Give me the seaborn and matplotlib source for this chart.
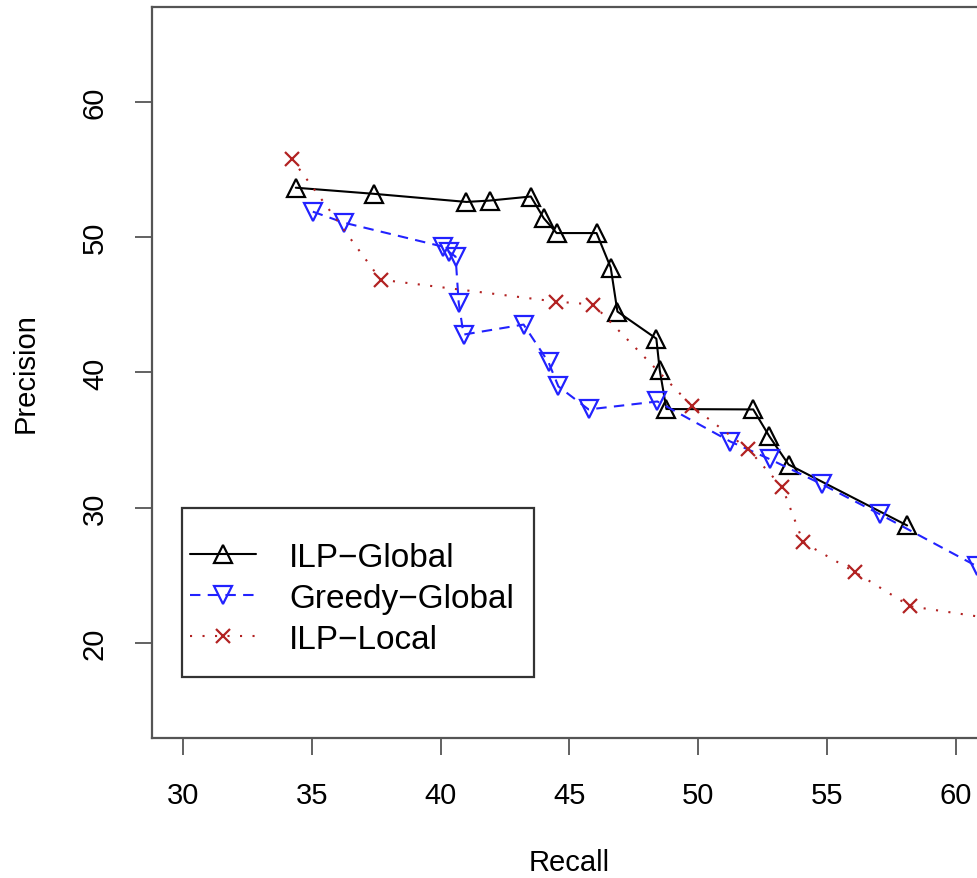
import matplotlib
matplotlib.use("Agg")
import matplotlib.pyplot as plt
import matplotlib.patches as patches
import pandas as pd
import seaborn as sns

# precision / recall points
ilp_global_recall = [34.38, 37.40, 41.00, 41.90, 43.50, 44.00, 44.50, 46.05, 46.60, 46.86,
                     48.37, 48.50, 48.76, 52.13, 52.75, 53.50, 58.10]
ilp_global_precision = [53.65, 53.20, 52.60, 52.70, 53.00, 51.40, 50.30, 50.30, 47.75, 44.50,
                        42.50, 40.20, 37.30, 37.27, 35.30, 33.20, 28.70]

greedy_global_recall = [35.04, 36.24, 40.08, 40.31, 40.58, 40.70, 40.89, 43.22, 44.19, 44.57,
                        45.74, 48.41, 51.24, 52.79, 54.81, 57.05, 60.81]
greedy_global_precision = [51.88, 51.07, 49.30, 48.93, 48.56, 45.17, 42.80, 43.54, 40.74, 38.97,
                           37.27, 37.86, 34.90, 33.58, 31.73, 29.52, 25.68]

ilp_local_recall = [34.22, 37.67, 44.46, 45.93, 49.77, 51.94, 53.26, 54.07, 56.09, 58.22, 62.50]
ilp_local_precision = [55.79, 46.86, 45.24, 45.02, 37.49, 34.32, 31.51, 27.45, 25.24, 22.73, 21.50]

series_names = ["ILP\u2212Global", "Greedy\u2212Global", "ILP\u2212Local"]
x_ticks = [30, 35, 40, 45, 50, 55, 60]
y_ticks = [20, 30, 40, 50, 60]

sns.set_theme(style="white")
plt.rcParams['font.family'] = ['Liberation Sans', 'DejaVu Sans']
plt.rcParams['text.color'] = 'black'
plt.rcParams['axes.labelcolor'] = 'black'

fig = plt.figure(figsize=(9.78, 8.79), dpi=100)
ax = fig.add_axes([0.1554, 0.1593, 0.8538, 0.8316])

df_ilp_g = pd.DataFrame({'Recall': ilp_global_recall, 'Precision': ilp_global_precision})
df_greedy = pd.DataFrame({'Recall': greedy_global_recall, 'Precision': greedy_global_precision})
df_ilp_l = pd.DataFrame({'Recall': ilp_local_recall, 'Precision': ilp_local_precision})

sns.lineplot(x='Recall', y='Precision', data=df_ilp_g, ax=ax, sort=False, estimator=None,
             color='black', linestyle='-', lw=1.5, marker='^', markersize=13,
             markerfacecolor='none', markeredgecolor='black', markeredgewidth=1.6,
             label=series_names[0])
sns.lineplot(x='Recall', y='Precision', data=df_greedy, ax=ax, sort=False, estimator=None,
             color='#2222ff', linestyle=(0, (5, 3.5)), lw=1.5, marker='v', markersize=13,
             markerfacecolor='none', markeredgecolor='#2222ff', markeredgewidth=1.6,
             label=series_names[1])
sns.lineplot(x='Recall', y='Precision', data=df_ilp_l, ax=ax, sort=False, estimator=None,
             color='#b22222', linestyle=(0, (1, 5)), lw=1.5, marker='x', markersize=10.5,
             markeredgecolor='#b22222', markeredgewidth=1.6,
             label=series_names[2])

ax.set_xlim(28.8, 61.2)
ax.set_ylim(13, 67)
ax.set_xticks(x_ticks)
ax.set_yticks(y_ticks)
ax.set_yticklabels([str(v) for v in y_ticks], rotation=90, va='center')

ax.tick_params(axis='both', direction='out', length=12, width=1.3, color='#555555',
               labelsize=21, labelcolor='black', pad=19, bottom=True, left=True)

for s in ax.spines.values():
    s.set_color('#555555')
    s.set_linewidth(1.6)

ax.set_xlabel('Recall', fontsize=21, color='black')
ax.set_ylabel('Precision', fontsize=21, color='black')
ax.xaxis.set_label_coords(0.5, -0.150)
ax.yaxis.set_label_coords(-0.135, 0.5)

# legend with an R style box
frame = patches.Rectangle((182 / 978, 1 - 678 / 879), (534 - 182) / 978, (678 - 509) / 879,
                          transform=fig.transFigure, facecolor='white', edgecolor='#333333',
                          lw=1.6, zorder=5)
ax.add_patch(frame)
frame.set_clip_on(False)
leg = ax.legend(loc='upper left', bbox_to_anchor=(190 / 978, 1 - 543 / 879),
                bbox_transform=fig.transFigure, frameon=False, fontsize=24,
                handlelength=1.97, handletextpad=1.0, labelspacing=0.3,
                borderpad=0, borderaxespad=0)
for t in leg.get_texts():
    t.set_color('black')
leg.set_zorder(6)

fig.savefig('out.png', dpi=100)
